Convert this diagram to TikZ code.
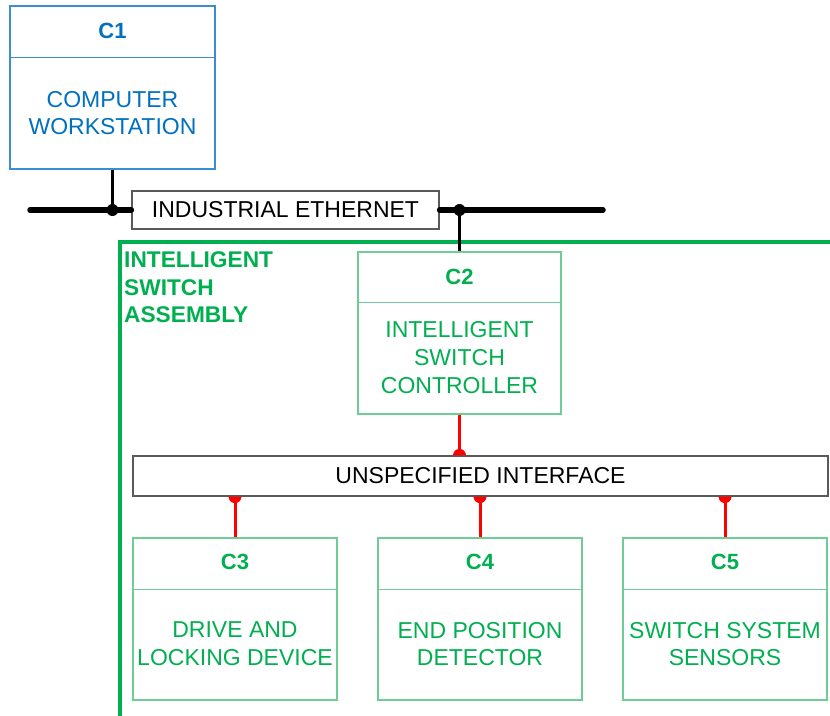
\documentclass[tikz,border=0pt]{standalone}
\usepackage{fontspec}
\setmainfont{Liberation Sans}
\definecolor{cblue}{RGB}{0,112,192}
\definecolor{cgreen}{RGB}{0,176,80}
\definecolor{lgreen}{RGB}{110,205,150}
\definecolor{lblue}{RGB}{60,140,210}
\definecolor{bgray}{RGB}{90,90,90}
\begin{document}
\begin{tikzpicture}[x=1pt,y=-1pt,
  txt/.style={font=\fontsize{23}{27.7}\selectfont, align=center, inner sep=0pt},
  hdr/.style={font=\fontsize{22}{26}\selectfont\bfseries, inner sep=0pt},
  gbox/.style={draw=lgreen, line width=1.2pt, fill=white, minimum width=204pt, minimum height=162pt, inner sep=0pt},
  bbox/.style={draw=lblue, line width=1.2pt, fill=white, minimum width=205pt, minimum height=163pt, inner sep=0pt},
  kbox/.style={draw=bgray, line width=1.2pt, fill=white, inner sep=0pt, font=\fontsize{23}{27.7}\selectfont},
  bus/.style={line width=5.5pt, line cap=round},
  drop/.style={line width=2.5pt},
  rlink/.style={draw=red, line width=3pt},
]
\useasboundingbox (0,0) rectangle (830,715);
% green assembly frame
\draw[cgreen, line width=3.2pt] (120,716) -- (120,242) -- (832,242);
\node[anchor=north west, align=left, inner sep=0pt, text=cgreen,
      font=\fontsize{22.7}{27.5}\selectfont\bfseries] (asm) at (124,251.5) {INTELLIGENT\\SWITCH\\ASSEMBLY};

% C1
\node[bbox] (c1) at (112.5,87.5) {};
\draw[lblue, line width=1.2pt] (c1.north west) ++(0,52) -- ++(205,0);
\node[hdr, text=cblue] (c1h) at (112.5,31) {C1};
\node[txt, text=cblue] (c1b) at (112.5,113) {COMPUTER\\WORKSTATION};

% Ethernet
\node[kbox, minimum width=307pt, minimum height=38pt] (eth) at (285.5,210) {INDUSTRIAL ETHERNET};
\coordinate (busL) at (30,210);
\coordinate (busR) at (603,210);
\draw[bus] (busL) -- (eth.west);
\draw[bus] (eth.east) -- (busR);

% C2
\node[gbox, minimum width=203pt] (c2) at (459.5,333) {};
\draw[lgreen, line width=1.2pt] (c2.north west) ++(0,51) -- ++(203,0);
\node[hdr, text=cgreen] (c2h) at (459.5,277) {C2};
\node[txt, text=cgreen] (c2b) at (459.5,357.5) {INTELLIGENT\\SWITCH\\CONTROLLER};

\coordinate (j1) at (c1.south |- busL);
\coordinate (j2) at (c2.north |- busL);
\draw[drop] (c1.south) -- (j1);
\draw[drop] (j2) -- (c2.north);
\fill (j1) circle (6pt);
\fill (j2) circle (6pt);

% Unspecified interface
\node[kbox, minimum width=695pt, minimum height=40pt] (ui) at (480.5,476) {UNSPECIFIED INTERFACE};

% C3..C5
\foreach \n/\x/\t in {c3/235/{DRIVE AND\\LOCKING DEVICE}, c4/480/{END POSITION\\DETECTOR}, c5/725/{SWITCH SYSTEM\\SENSORS}}{
  \node[gbox] (\n) at (\x,619) {};
  \draw[lgreen, line width=1.2pt] (\n.north west) ++(0,52) -- ++(204,0);
  \node[txt, text=cgreen] (\n b) at (\x,644) {\t};
}
\node[hdr, text=cgreen] (c3h) at (235,562) {C3};
\node[hdr, text=cgreen] (c4h) at (480,562) {C4};
\node[hdr, text=cgreen] (c5h) at (725,562) {C5};

% red links
\coordinate (r0) at (c2.south |- ui.north);
\draw[rlink] (c2.south) -- (r0);
\fill[red] (r0) ++(-6.5,0) arc[start angle=180, end angle=0, radius=6.5pt] -- cycle;
\foreach \n in {c3,c4,c5}{
  \coordinate (r\n) at (\n.north |- ui.south);
  \draw[rlink] (r\n) -- (\n.north);
  \fill[red] (r\n) ++(-6.5,0) arc[start angle=180, end angle=360, radius=6.5pt] -- cycle;
}
\end{tikzpicture}
\end{document}
